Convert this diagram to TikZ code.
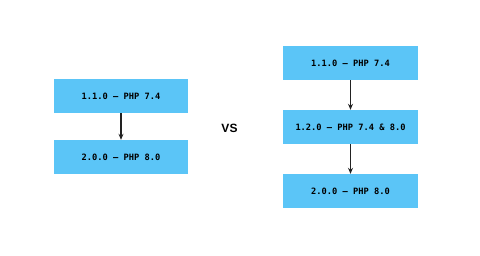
\documentclass[tikz,border=0pt]{standalone}
\usepackage{fontspec}
\setmainfont{Liberation Sans}
\newfontfamily\boxfont{DejaVu Sans Mono}
\usetikzlibrary{arrows.meta}
\definecolor{boxblue}{HTML}{5BC5F7}
\definecolor{linegray}{HTML}{222222}
\tikzset{
    verbox/.style={fill=boxblue, minimum width=134pt, minimum height=34pt,
        inner sep=0pt, font=\boxfont\bfseries\fontsize{8.7}{10}\selectfont},
    upgrade/.style={-{Stealth[length=6pt, width=5pt]}, linegray, line width=1.3pt}
}
\begin{document}
\begin{tikzpicture}[x=1pt, y=-1pt]
    \useasboundingbox[fill=white] (0,0) rectangle (480,255);
    % 左側: 直接アップグレード
    \node[verbox] (l1) at (121, 96) {1.1.0 – PHP 7.4};
    \node[verbox] (l2) at (121, 157) {2.0.0 – PHP 8.0};
    % 比較
    \node[font=\bfseries\fontsize{12}{14}\selectfont] (vs) at (229.5, 128.5) {VS};
    % 右側: 中間バージョンを経由
    \node[verbox, minimum width=135pt] (r1) at (350.5, 63) {1.1.0 – PHP 7.4};
    \node[verbox, minimum width=135pt] (r2) at (350.5, 127) {1.2.0 – PHP 7.4 \& 8.0};
    \node[verbox, minimum width=135pt] (r3) at (350.5, 191) {2.0.0 – PHP 8.0};
    % 矢印
    \draw[upgrade] (l1) -- (l2);
    \draw[upgrade] (r1) -- (r2);
    \draw[upgrade] (r2) -- (r3);
\end{tikzpicture}
\end{document}
